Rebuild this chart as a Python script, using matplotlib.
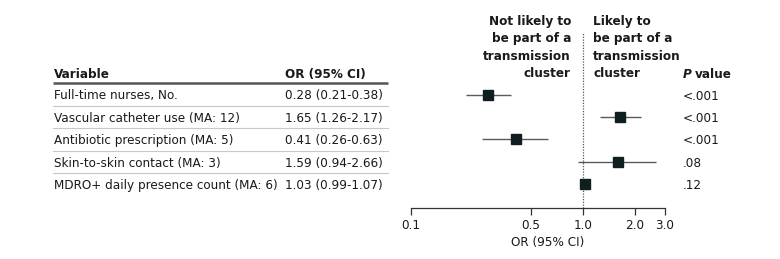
import matplotlib
matplotlib.use("Agg")
import matplotlib.pyplot as plt
import numpy as np

plt.rcParams['font.family'] = ['DejaVu Sans']
plt.rcParams['font.stretch'] = 'condensed'

# data
variables = ['Full-time nurses, No.', 'Vascular catheter use (MA: 12)',
             'Antibiotic prescription (MA: 5)', 'Skin-to-skin contact (MA: 3)',
             'MDRO+ daily presence count (MA: 6)']
odds = [0.28, 1.65, 0.41, 1.59, 1.03]
lower = [0.21, 1.26, 0.26, 0.94, 0.99]
upper = [0.38, 2.17, 0.63, 2.66, 1.07]
pvals = ['<.001', '<.001', '<.001', '.08', '.12']
ticks = [0.1, 0.5, 1.0, 2.0, 3.0]
tick_labels = ['0.1', '0.5', '1.0', '2.0', '3.0']

W, H = 780, 259
fig = plt.figure(figsize=(W / 100, H / 100), dpi=100)

# overlay axes in pixel coordinates for the table text
ov = fig.add_axes([0, 0, 1, 1])
ov.set_xlim(0, W)
ov.set_ylim(H, 0)
ov.axis('off')

txt = '#1a1a1a'
fs = 9.6
row0, step = 94.5, 22.4
va = 'center_baseline'

# forest plot axes (pixels: x 411..665, y 33..208)
x0, x1, ytop, ybot = 411, 665, 33, 208
ax = fig.add_axes([x0 / W, 1 - ybot / H, (x1 - x0) / W, (ybot - ytop) / H])
ax.set_xscale('log')
ax.set_xlim(0.1, 3.0)
ax.set_ylim((ybot - row0) / step, (ytop - row0) / step)
ax.patch.set_alpha(0)
for s in ['top', 'right', 'left']:
    ax.spines[s].set_visible(False)
ax.spines['bottom'].set_color('#333333')
ax.spines['bottom'].set_linewidth(0.9)
ax.set_yticks([])
ax.set_xticks(ticks)
ax.set_xticklabels(tick_labels, fontsize=fs, color=txt)
ax.xaxis.set_minor_locator(matplotlib.ticker.NullLocator())
ax.tick_params(axis='x', length=5, width=0.9, color='#333333', pad=3)

ax.axvline(1.0, color='#555555', lw=0.9, ls=(0, (1, 1.2)))
y = np.arange(len(odds))
ax.hlines(y, lower, upper, color='#5a5a5a', lw=1.0)
ax.plot(odds, y, 's', color='#0f1f1f', markersize=6.5, clip_on=False)

# table
ov.text(54, 73, 'Variable', fontsize=fs, fontweight='bold', color=txt, va=va)
ov.text(285, 73, 'OR (95% CI)', fontsize=fs, fontweight='bold', color=txt, va=va)
ov.plot([53, 388], [83, 83], color='#555555', lw=1.8, solid_capstyle='butt')
for i, v in enumerate(variables):
    yy = row0 + step * i
    ov.text(54, yy, v, fontsize=fs, color=txt, va=va)
    ov.text(285, yy, '%.2f (%.2f-%.2f)' % (odds[i], lower[i], upper[i]),
            fontsize=fs, color=txt, va=va)
    ov.text(683, yy, pvals[i], fontsize=fs, color=txt, va=va)
    if i < len(variables) - 1:
        ov.plot([53, 388], [yy + step / 2, yy + step / 2], color='#c8c8c8', lw=0.8)

p = ov.text(683, 73, 'P', fontsize=fs, fontweight='bold', fontstyle='italic',
            color=txt, va=va)
fig.canvas.draw()
bb = p.get_window_extent(fig.canvas.get_renderer())
ov.text(bb.x1 + 3, 73, 'value', fontsize=fs, fontweight='bold', color=txt, va=va)

left_hdr = ['Not likely to', 'be part of a', 'transmission', 'cluster']
right_hdr = ['Likely to', 'be part of a', 'transmission', 'cluster']
for k in range(4):
    ov.text(571, 20 + 17.4 * k, left_hdr[k], fontsize=fs, fontweight='bold',
            color=txt, va=va, ha='right')
    ov.text(593, 20 + 17.4 * k, right_hdr[k], fontsize=fs, fontweight='bold',
            color=txt, va=va, ha='left')

ov.text(548, 241, 'OR (95% CI)', fontsize=fs, color=txt, va=va, ha='center')

fig.savefig('out.png', dpi=100)
